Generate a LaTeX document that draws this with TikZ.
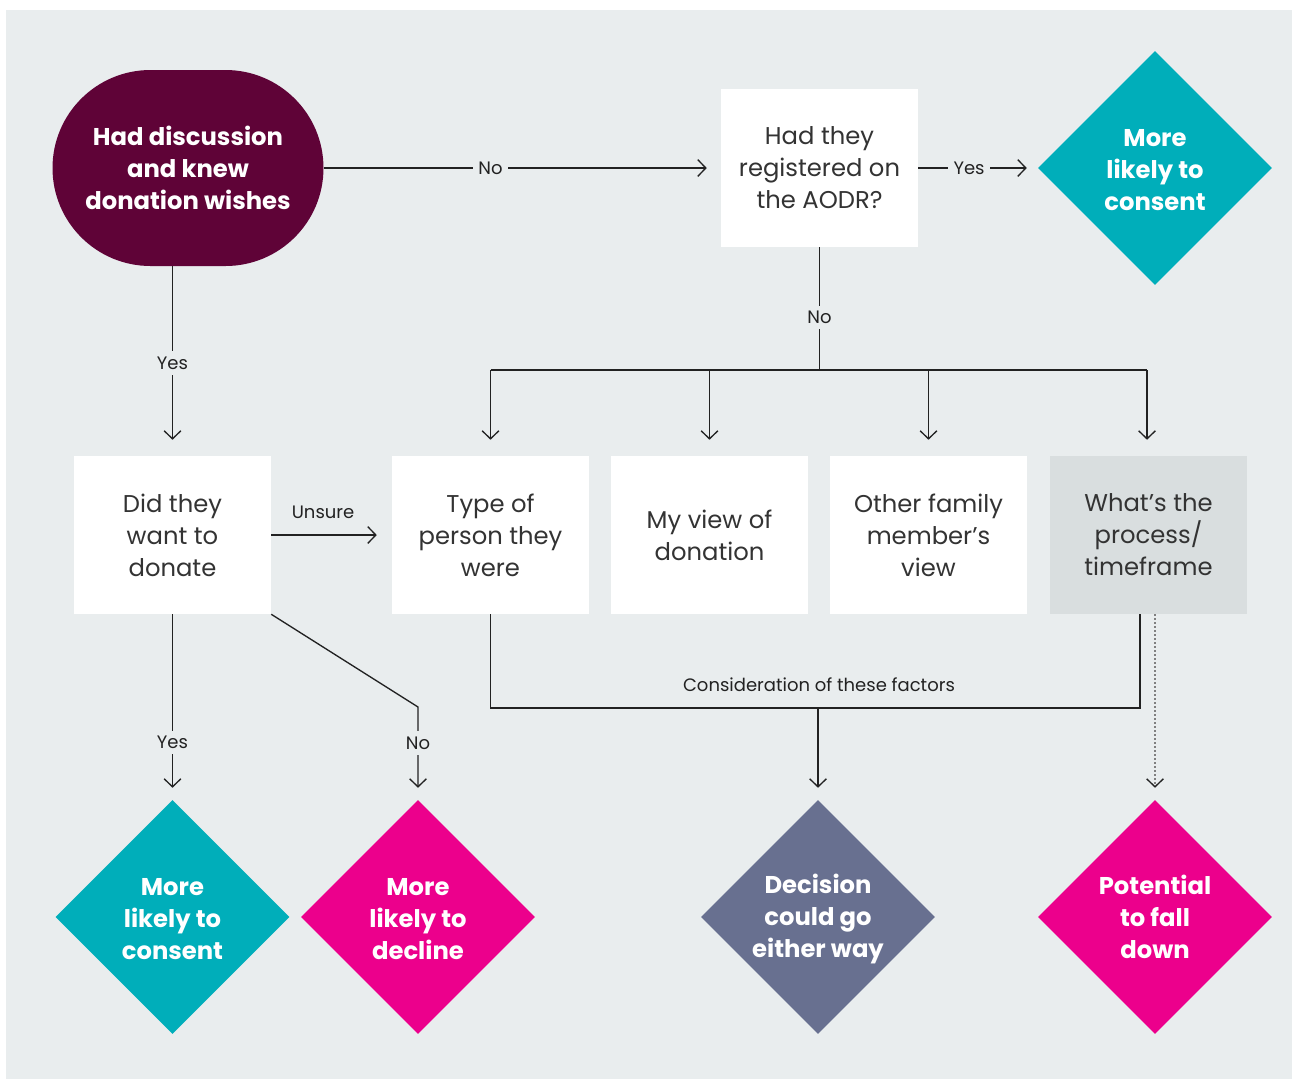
\documentclass[tikz,border=0pt]{standalone}
\usepackage{fontspec}
\setmainfont{Poppins}
\usetikzlibrary{shapes.geometric,shapes.misc,arrows.meta}
\definecolor{bg}{HTML}{E9EDEE}
\definecolor{graybox}{HTML}{D9DEDF}
\definecolor{maroon}{HTML}{5F0337}
\definecolor{teal}{HTML}{00AEBA}
\definecolor{pink}{HTML}{EC008C}
\definecolor{slate}{HTML}{687090}
\definecolor{ink}{HTML}{333333}
\definecolor{lineink}{HTML}{222222}
\newcommand{\lowerby}[1]{\rule{0pt}{#1}}
\tikzset{
  boxtext/.style={font=\fontsize{18.2pt}{24pt}\selectfont, text=ink, align=center},
  whitebox/.style={boxtext, fill=white, minimum width=147.75pt, minimum height=118.5pt, inner sep=0pt},
  bigshape/.style={font=\fontsize{18.2pt}{24pt}\selectfont\bfseries, text=white, align=center},
  dia/.style={bigshape, diamond, minimum width=175.5pt, minimum height=175.5pt, inner sep=0pt},
  conn/.style={draw=lineink, line width=1pt},
  arr/.style={conn, -{Straight Barb[length=6pt,width=12.5pt,line width=1pt]}},
  lbl/.style={font=\fontsize{13.5pt}{15pt}\selectfont, text=lineink, fill=bg, inner sep=4pt},
  plainlbl/.style={font=\fontsize{13.5pt}{15pt}\selectfont, text=lineink, inner sep=0pt}
}
\begin{document}
\begin{tikzpicture}[x=0.75pt,y=-0.75pt]
\useasboundingbox (0,0) rectangle (1292,1079);
\fill[bg] (6,10) rectangle (1292,1079);

% top row
\node[bigshape, rounded rectangle, fill=maroon, minimum width=203.25pt, minimum height=147pt, inner sep=0pt] (stad) at (188,168) {Had discussion\\and knew\\donation wishes};
\node[whitebox] (reg) at (819.5,168) {Had they\\registered on\\the AODR?};
\node[dia, fill=teal] (dtop) at (1155,168) {\lowerby{16.5pt}More\\likely to\\consent};

% middle row
\node[whitebox] (b1) at (172.5,535) {Did they\\want to\\donate};
\node[whitebox] (b2) at (490.5,535) {Type of\\person they\\were};
\node[whitebox] (b3) at (709.5,535) {My view of\\donation};
\node[whitebox] (b4) at (928.5,535) {Other family\\member’s\\view};
\node[whitebox, fill=graybox] (b5) at (1148.5,535) {What’s the\\process/\\timeframe};

% bottom row
\node[dia, fill=teal] (d1) at (172.5,917) {\lowerby{16.5pt}More\\likely to\\consent};
\node[dia, fill=pink] (d2) at (418,917) {\lowerby{16.5pt}More\\likely to\\decline};
\node[dia, fill=slate] (d3) at (818,917) {\lowerby{18pt}Decision\\could go\\either way};
\node[dia, fill=pink] (d4) at (1155,917) {Potential\\to fall\\down};

% coordinates
\coordinate (jn) at (819.5,370);
\coordinate (jl) at (490.5,370);
\coordinate (jr) at (1147,370);
\coordinate (k) at (418,707);
\coordinate (c1) at (1140,708);

% connectors
\draw[arr, shorten >=10.5pt] (stad.east |- reg.west) -- node[lbl, pos=0.42] {No} (reg.west);
\draw[arr, shorten >=8.25pt] (reg.east) -- node[lbl, pos=0.425] {Yes} (dtop.west);
\draw[conn] (reg.south) -- node[lbl, pos=0.57] {No} (jn);
\draw[conn] (jl) -- (jr);
\draw[arr, shorten >=12pt] (jl) -- (b2.north);
\draw[arr, shorten >=12pt] (b3.north |- jn) -- (b3.north);
\draw[arr, shorten >=12pt] (b4.north |- jn) -- (b4.north);
\draw[arr, shorten >=12pt] (jr) -- (jr |- b5.north);

\draw[arr, shorten >=12pt] (b1.north |- stad.south) -- node[lbl, pos=0.51] {Yes} (b1.north);
\draw[arr, shorten >=11.25pt] (b1.east) -- node[plainlbl, pos=0.43, above=12pt] {Unsure} (b2.west);

\draw[arr, shorten >=9pt] (b1.south) -- node[lbl, pos=0.69] {Yes} (d1.north);
\draw[arr, shorten >=9pt] (b1.south east) -- (k) -- node[lbl, pos=0.39] {No} (d2.north);

\draw[conn] (b2.south) |- (c1) -- (c1 |- b5.south);
\node[plainlbl] (cons) at (819,685) {Consideration of these factors};
\draw[arr, shorten >=9pt] (d3.north |- c1) -- (d3.north);

\draw[draw=gray, line width=1pt, dash pattern=on 1.2pt off 1.8pt, -{Straight Barb[length=6pt,width=12.5pt,line width=1pt,color=lineink]}, shorten >=9pt] (d4.north |- b5.south) -- (d4.north);
\end{tikzpicture}
\end{document}
